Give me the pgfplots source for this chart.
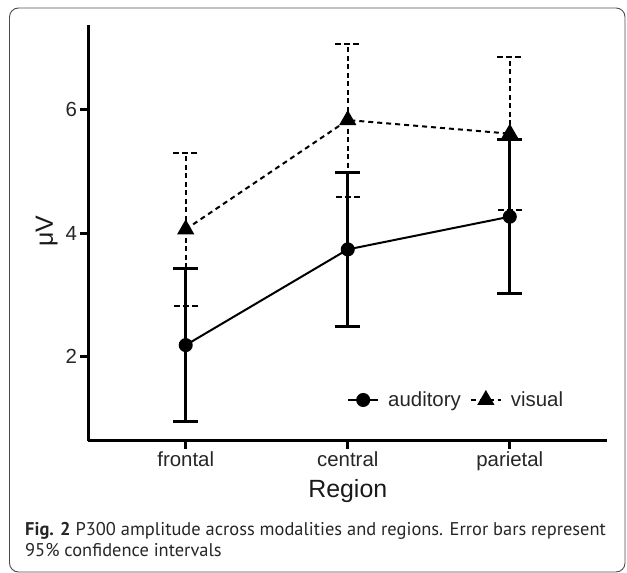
\documentclass[border=0pt]{standalone}
\usepackage{pgfplots}
\pgfplotsset{compat=1.18}
\usepackage{pgfplotstable}
\usepackage{fontspec}
\setmainfont{Liberation Sans}
\newfontfamily\capfont{PT Sans}
\pgfplotstableread{
x y e
1 2.185 1.235
2 3.735 1.245
3 4.265 1.245
}\auditory
\pgfplotstableread{
x y e
1 4.06 1.24
2 5.83 1.24
3 5.61 1.24
}\visual
\begin{document}
\begin{tikzpicture}
\begin{axis}[
  scale only axis, width=518.5bp, height=415.5bp,
  xmin=0.4, xmax=3.6, ymin=0.64, ymax=7.37,
  axis x line=bottom, axis y line=left,
  axis line style={-, line width=3bp, black},
  xtick={1,2,3}, xticklabels={frontal,central,parietal},
  ytick={2,4,6},
  tick align=outside, major tick length=8bp,
  tick style={line width=3bp, black},
  /pgf/number format/assume math mode=true,
  ticklabel style={font=\fontsize{20.5}{24}\selectfont, text=black!85},
  xlabel={Region},
  xlabel style={at={(axis description cs:0.5,-0.136)}, anchor=base, font=\fontsize{25}{30}\selectfont, text=black!90},
  ylabel={μV},
  ylabel style={at={(axis description cs:-0.0685,0.504)}, anchor=base, font=\fontsize{25}{30}\selectfont, text=black!90},
  legend columns=2,
  legend style={draw=none, fill=none, at={(rel axis cs:0.4928,0.0975)}, anchor=west,
    font=\fontsize{20.5}{24}\selectfont, text=black!85,
    /tikz/every odd column/.append style={column sep=7bp},
    /tikz/every even column/.append style={column sep=7bp}},
  legend image code/.code={\draw[mark repeat=2,mark phase=2,#1] plot coordinates {(0bp,0bp)(15bp,0bp)(30bp,0bp)};},
]
\addplot[black, line width=2bp, mark=*, mark size=6bp, mark options={solid},
  error bars/.cd, y dir=both, y explicit,
  error bar style={line width=3bp, solid},
  error mark options={rotate=90, mark size=12.3bp, line width=3bp, solid}]
  table[x=x, y=y, y error=e] {\auditory};
\addlegendentry{auditory}
\addplot[black, line width=2bp, dash pattern=on 5bp off 4bp, mark=triangle*, mark size=8bp, mark options={solid},
  error bars/.cd, y dir=both, y explicit,
  error bar style={line width=2bp, dash pattern=on 5bp off 3.5bp},
  error mark options={rotate=90, mark size=12.3bp, line width=2bp, dash pattern=on 6bp off 3bp}]
  table[x=x, y=y, y error=e] {\visual};
\addlegendentry{visual}
\coordinate (A) at (rel axis cs:0,0);
\end{axis}
\begin{scope}[shift={(A)}, x=1bp, y=1bp]
\draw[rounded corners=9bp, line width=0.9bp, black!70] (-79,-131.5) rectangle (536.5,432.5);
\node[anchor=base west, inner sep=0, font=\capfont\fontsize{18.5}{22}\selectfont, text=black!85] at (-63.5,-94.5)
  {\textbf{Fig. 2} P300 amplitude across modalities and regions. Error bars represent};
\node[anchor=base west, inner sep=0, font=\capfont\fontsize{18.5}{22}\selectfont, text=black!85] at (-63.5,-115.5)
  {95\% confidence intervals};
\path[use as bounding box] (-88.5,-132.5) rectangle (538.5,440.5);
\end{scope}
\end{tikzpicture}
\end{document}
